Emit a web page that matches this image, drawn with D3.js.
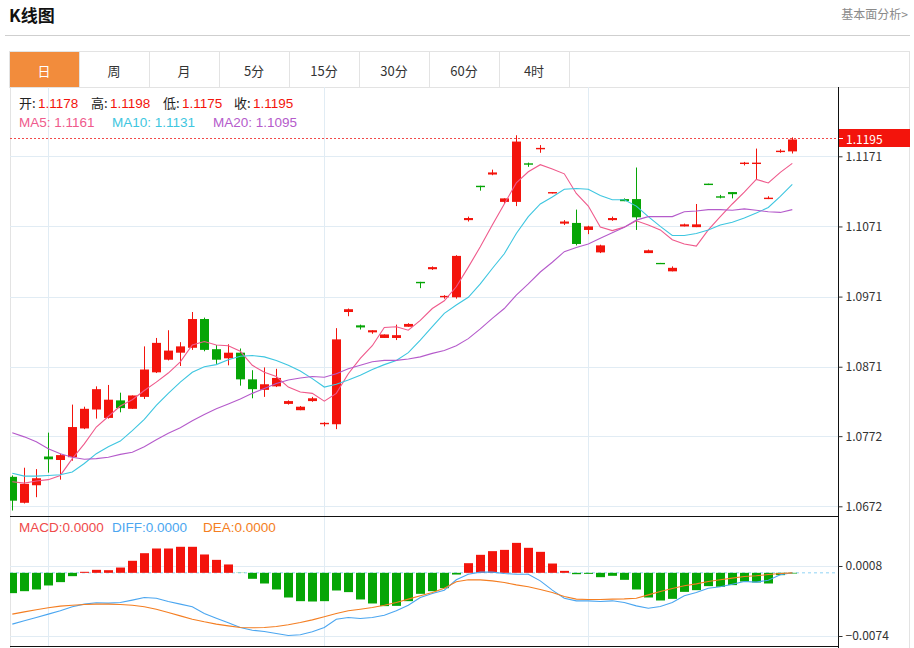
<!DOCTYPE html>
<html>
<head>
<meta charset="utf-8">
<script src="https://cdn.jsdelivr.net/npm/d3@7"></script>
<style>
  body { margin: 0; background: #fff; }
  svg { font-family: "Microsoft YaHei", "Noto Sans CJK SC", sans-serif; }
</style>
</head>
<body>
<script>
var width = 914, height = 648;

// tabs of the period selector
var tabs = ["日", "周", "月", "5分", "15分", "30分", "60分", "4时"];

// daily candles, oldest first
var open  = [1.0714,1.0677,1.0702,1.0743,1.0738,1.0742,1.0783,1.0810,1.0798,1.0823,1.0811,1.0828,1.0863,1.0881,1.0891,1.0898,1.0939,1.0896,1.0883,1.0891,1.0853,1.0838,1.0843,1.0818,1.0809,1.0822,1.0789,1.0789,1.0949,1.0930,1.0920,1.0912,1.0912,1.0928,1.0992,1.1010,1.0970,1.0970,1.1080,1.1129,1.1145,1.1106,1.1106,1.1161,1.1181,1.1118,1.1075,1.1076,1.1066,1.1034,1.1080,1.1110,1.1110,1.1033,1.1019,1.1007,1.1071,1.1070,1.1132,1.1114,1.1120,1.1160,1.1160,1.1110,1.1177,1.1178];
var high  = [1.0716,1.0727,1.0725,1.0777,1.0747,1.0817,1.0814,1.0843,1.0845,1.0834,1.0830,1.0900,1.0912,1.0923,1.0906,1.0949,1.0941,1.0902,1.0903,1.0897,1.0866,1.0870,1.0868,1.0823,1.0815,1.0828,1.0792,1.0926,1.0954,1.0931,1.0923,1.0917,1.0931,1.0933,1.0992,1.1014,1.0973,1.1030,1.1085,1.1129,1.1152,1.1111,1.1201,1.1162,1.1187,1.1120,1.1080,1.1095,1.1072,1.1045,1.1085,1.1111,1.1155,1.1038,1.1019,1.1014,1.1075,1.1103,1.1132,1.1116,1.1120,1.1163,1.1182,1.1114,1.1181,1.1198];
var low   = [1.0666,1.0676,1.0685,1.0720,1.0710,1.0737,1.0782,1.0797,1.0797,1.0806,1.0811,1.0825,1.0862,1.0880,1.0872,1.0895,1.0893,1.0875,1.0873,1.0844,1.0826,1.0828,1.0842,1.0817,1.0809,1.0821,1.0786,1.0782,1.0943,1.0924,1.0918,1.0912,1.0909,1.0928,1.0983,1.1009,1.0968,1.0968,1.1078,1.1122,1.1144,1.1103,1.1100,1.1156,1.1176,1.1118,1.1073,1.1044,1.1060,1.1033,1.1079,1.1107,1.1066,1.1033,1.1018,1.1007,1.1071,1.1070,1.1130,1.1111,1.1111,1.1158,1.1138,1.1110,1.1176,1.1175];
var close = [1.0680,1.0704,1.0712,1.0739,1.0745,1.0785,1.0811,1.0839,1.0824,1.0812,1.0830,1.0867,1.0905,1.0894,1.0900,1.0939,1.0895,1.0881,1.0891,1.0853,1.0839,1.0846,1.0855,1.0822,1.0814,1.0826,1.0791,1.0910,1.0953,1.0927,1.0923,1.0917,1.0916,1.0932,1.0990,1.1013,1.0972,1.1029,1.1083,1.1127,1.1148,1.1111,1.1192,1.1159,1.1183,1.1120,1.1078,1.1046,1.1071,1.1044,1.1083,1.1107,1.1084,1.1037,1.1018,1.1012,1.1074,1.1074,1.1130,1.1112,1.1117,1.1162,1.1162,1.1112,1.1179,1.1195];

// moving averages
var ma5  = [1.0707,1.0705,1.0708,1.0710,1.0716,1.0740,1.0761,1.0785,1.0800,1.0815,1.0824,1.0837,1.0849,1.0862,1.0878,1.0902,1.0907,1.0902,1.0901,1.0893,1.0873,1.0863,1.0857,1.0842,1.0835,1.0833,1.0822,1.0833,1.0861,1.0883,1.0901,1.0927,1.0928,1.0923,1.0937,1.0954,1.0965,1.0985,1.1013,1.1042,1.1073,1.1103,1.1133,1.1149,1.1159,1.1153,1.1146,1.1118,1.1100,1.1070,1.1065,1.1070,1.1079,1.1073,1.1066,1.1052,1.1046,1.1043,1.1066,1.1085,1.1103,1.1120,1.1138,1.1133,1.1148,1.1161];
var ma10 = [1.0719,1.0715,1.0715,1.0716,1.0717,1.0721,1.0733,1.0747,1.0757,1.0765,1.0780,1.0796,1.0816,1.0833,1.0849,1.0863,1.0871,1.0874,1.0881,1.0886,1.0887,1.0885,1.0880,1.0873,1.0865,1.0854,1.0842,1.0846,1.0852,1.0859,1.0867,1.0874,1.0880,1.0891,1.0909,1.0928,1.0947,1.0959,1.0970,1.0989,1.1011,1.1032,1.1061,1.1085,1.1103,1.1113,1.1124,1.1125,1.1124,1.1115,1.1109,1.1109,1.1100,1.1085,1.1071,1.1058,1.1058,1.1061,1.1066,1.1073,1.1077,1.1083,1.1090,1.1098,1.1114,1.1131];
var ma20 = [1.0777,1.0771,1.0764,1.0754,1.0747,1.0742,1.0739,1.0740,1.0742,1.0746,1.0749,1.0757,1.0767,1.0776,1.0784,1.0794,1.0803,1.0811,1.0818,1.0825,1.0833,1.0840,1.0847,1.0852,1.0855,1.0857,1.0856,1.0861,1.0868,1.0873,1.0878,1.0880,1.0880,1.0882,1.0885,1.0890,1.0894,1.0901,1.0911,1.0925,1.0940,1.0954,1.0973,1.0989,1.1006,1.1020,1.1035,1.1041,1.1046,1.1054,1.1062,1.1070,1.1080,1.1085,1.1085,1.1085,1.1092,1.1093,1.1095,1.1095,1.1094,1.1096,1.1094,1.1092,1.1091,1.1095];

// MACD panel
var macd = [-0.00238,-0.00215,-0.00195,-0.00148,-0.00109,-0.00039,0.00012,0.00035,0.00031,0.00062,0.00141,0.00230,0.00285,0.00285,0.00305,0.00305,0.00215,0.00152,0.00098,-0.00002,-0.00070,-0.00125,-0.00195,-0.00289,-0.00332,-0.00336,-0.00332,-0.00207,-0.00226,-0.00312,-0.00359,-0.00390,-0.00387,-0.00332,-0.00246,-0.00215,-0.00180,-0.00020,0.00113,0.00211,0.00254,0.00269,0.00351,0.00293,0.00246,0.00109,0.00023,-0.00016,-0.00012,-0.00051,-0.00035,-0.00082,-0.00195,-0.00289,-0.00324,-0.00305,-0.00223,-0.00203,-0.00156,-0.00164,-0.00144,-0.00102,-0.00113,-0.00125,-0.00027,-0.00008];
var diff = [-0.00601,-0.00562,-0.00523,-0.00484,-0.00445,-0.00398,-0.00367,-0.00351,-0.00355,-0.00348,-0.00320,-0.00289,-0.00297,-0.00336,-0.00367,-0.00398,-0.00476,-0.00531,-0.00586,-0.00640,-0.00672,-0.00687,-0.00711,-0.00734,-0.00726,-0.00691,-0.00640,-0.00543,-0.00523,-0.00535,-0.00523,-0.00496,-0.00445,-0.00379,-0.00289,-0.00242,-0.00203,-0.00082,-0.00016,0.00008,0.00008,-0.00008,-0.00016,-0.00016,-0.00094,-0.00203,-0.00297,-0.00328,-0.00328,-0.00336,-0.00328,-0.00348,-0.00387,-0.00414,-0.00394,-0.00348,-0.00269,-0.00230,-0.00180,-0.00164,-0.00133,-0.00102,-0.00109,-0.00086,-0.00023,0.00000];
var dea  = [-0.00484,-0.00457,-0.00433,-0.00410,-0.00390,-0.00379,-0.00371,-0.00367,-0.00367,-0.00371,-0.00379,-0.00398,-0.00426,-0.00465,-0.00504,-0.00543,-0.00574,-0.00601,-0.00621,-0.00640,-0.00644,-0.00640,-0.00629,-0.00609,-0.00582,-0.00551,-0.00515,-0.00476,-0.00445,-0.00426,-0.00406,-0.00379,-0.00348,-0.00308,-0.00269,-0.00230,-0.00180,-0.00105,-0.00082,-0.00082,-0.00094,-0.00113,-0.00141,-0.00164,-0.00195,-0.00230,-0.00277,-0.00308,-0.00312,-0.00312,-0.00308,-0.00305,-0.00297,-0.00258,-0.00219,-0.00184,-0.00152,-0.00129,-0.00102,-0.00082,-0.00062,-0.00043,-0.00035,-0.00020,-0.00008,0.00000];

var priceTicks = [1.0672, 1.0772, 1.0871, 1.0971, 1.1071, 1.1171];
var macdTicks = [0.0008, -0.0074];
var monthStarts = [3, 26, 48];   // candles where vertical grid lines fall

var red = "#f3140c", green = "#06a506";
var colMA5 = "#ef5a8c", colMA10 = "#3ec6e0", colMA20 = "#b55bcb";

var left = 10, right = 838, priceTop = 87, priceBottom = 516, macdBottom = 646;

var svg = d3.select("body").append("svg")
    .attr("width", width)
    .attr("height", height);

// ---- header
svg.append("text")
    .attr("x", 9).attr("y", 22)
    .style("font-size", "17px").style("font-weight", "bold")
    .attr("fill", "#111")
    .text("K线图");
svg.append("text")
    .attr("x", 908).attr("y", 19)
    .attr("text-anchor", "end")
    .style("font-size", "12px")
    .attr("fill", "#8a8a8a")
    .text("基本面分析>");
svg.append("line")
    .attr("x1", 5).attr("x2", 910).attr("y1", 35.5).attr("y2", 35.5)
    .attr("stroke", "#cfcfcf");

// ---- period tabs
var tabW = 70;
svg.append("rect")
    .attr("x", 9.5).attr("y", 51.5).attr("width", 900).attr("height", 36)
    .attr("fill", "none").attr("stroke", "#e3e3e3");
var tab = svg.append("g").selectAll("g")
    .data(tabs)
  .join("g")
    .attr("transform", (d, i) => `translate(${10 + i * tabW},52)`);
tab.append("rect")
    .attr("width", tabW).attr("height", 35)
    .attr("fill", (d, i) => i == 0 ? "#f28c3c" : "#fff");
tab.append("line")
    .attr("x1", tabW - 0.5).attr("x2", tabW - 0.5).attr("y1", 0).attr("y2", 35)
    .attr("stroke", "#e3e3e3");
tab.append("text")
    .attr("x", tabW / 2 - 1).attr("y", 18)
    .attr("text-anchor", "middle").attr("dominant-baseline", "central")
    .style("font-size", "13px")
    .attr("fill", (d, i) => i == 0 ? "#fff" : "#333")
    .text(d => d);

// ---- frame
svg.append("line").attr("x1", 10.5).attr("x2", 10.5).attr("y1", 87).attr("y2", 648).attr("stroke", "#e3e3e3");
svg.append("line").attr("x1", 909.5).attr("x2", 909.5).attr("y1", 87).attr("y2", 648).attr("stroke", "#e3e3e3");

// ---- scales
var x = d3.scaleLinear().domain([0, open.length - 1]).range([12.3, 792.3]);
var y = d3.scaleLinear().domain([1.0672, 1.1171]).range([506.3, 156.3]);
var ym = d3.scaleLinear().domain([-0.0074, 0.0008]).range([636, 566]);

var defs = svg.append("defs");
defs.append("clipPath").attr("id", "clipPrice").append("rect")
    .attr("x", left).attr("y", priceTop).attr("width", right - left).attr("height", priceBottom - priceTop);
defs.append("clipPath").attr("id", "clipMacd").append("rect")
    .attr("x", left).attr("y", priceBottom).attr("width", right - left).attr("height", macdBottom - priceBottom);

// ---- grid
var grid = svg.append("g").attr("stroke", "#e1ecf4");
grid.selectAll(".hp").data(priceTicks).join("line")
    .attr("x1", left).attr("x2", right)
    .attr("y1", d => Math.round(y(d)) + 0.5).attr("y2", d => Math.round(y(d)) + 0.5);
grid.selectAll(".hm").data(macdTicks).join("line")
    .attr("x1", left).attr("x2", right)
    .attr("y1", d => Math.round(ym(d)) + 0.5).attr("y2", d => Math.round(ym(d)) + 0.5);
grid.selectAll(".v").data(monthStarts).join("line")
    .attr("x1", d => Math.round(x(d)) + 0.5).attr("x2", d => Math.round(x(d)) + 0.5)
    .attr("y1", priceTop).attr("y2", macdBottom);

// ---- candles
var idx = d3.range(open.length);
var pricePlot = svg.append("g").attr("clip-path", "url(#clipPrice)");
var candle = pricePlot.append("g").selectAll("g")
    .data(idx)
  .join("g")
    .attr("fill", i => close[i] >= open[i] ? red : green)
    .attr("stroke", i => close[i] >= open[i] ? red : green);
candle.append("line")
    .attr("x1", i => Math.round(x(i)) + 0.5).attr("x2", i => Math.round(x(i)) + 0.5)
    .attr("y1", i => y(high[i])).attr("y2", i => y(low[i]));
candle.append("rect")
    .attr("stroke", "none")
    .attr("x", i => Math.round(x(i)) - 4)
    .attr("width", 9)
    .attr("y", i => y(Math.max(open[i], close[i])))
    .attr("height", i => Math.max(1.3, Math.abs(y(open[i]) - y(close[i]))));

// ---- moving averages
[[ma5, colMA5], [ma10, colMA10], [ma20, colMA20]].forEach(function (s) {
    pricePlot.append("path")
        .datum(s[0])
        .attr("fill", "none")
        .attr("stroke", s[1])
        .attr("stroke-width", 1.1)
        .attr("d", d3.line().x((d, i) => x(i)).y(d => y(d)));
});

// last price marker
var last = close[close.length - 1];
var lastY = Math.round(y(last)) - 0.5;
svg.append("line")
    .attr("x1", left).attr("x2", right)
    .attr("y1", lastY).attr("y2", lastY)
    .attr("stroke", "#f24a4a").attr("stroke-dasharray", "2,2");

// ---- MACD panel
var macdPlot = svg.append("g").attr("clip-path", "url(#clipMacd)");
macdPlot.append("line")
    .attr("x1", left).attr("x2", right)
    .attr("y1", ym(0)).attr("y2", ym(0))
    .attr("stroke", "#8fd3f5").attr("stroke-dasharray", "3,3");
macdPlot.append("g").selectAll("rect")
    .data(idx)
  .join("rect")
    .attr("x", i => Math.round(x(i)) - 4)
    .attr("width", 9)
    .attr("y", i => Math.min(ym(0), ym(macd[i])))
    .attr("height", i => Math.abs(ym(macd[i]) - ym(0)))
    .attr("fill", i => macd[i] >= 0 ? red : green);
[[diff, "#4ba6f0"], [dea, "#f47e22"]].forEach(function (s) {
    macdPlot.append("path")
        .datum(s[0])
        .attr("fill", "none")
        .attr("stroke", s[1])
        .attr("stroke-width", 1.1)
        .attr("d", d3.line().x((d, i) => x(i)).y(d => ym(d)));
});

// ---- axes
svg.append("line").attr("x1", left).attr("x2", right).attr("y1", 516.5).attr("y2", 516.5).attr("stroke", "#111");
svg.append("line").attr("x1", left).attr("x2", right).attr("y1", 646.5).attr("y2", 646.5).attr("stroke", "#111");
svg.append("line").attr("x1", right + 0.5).attr("x2", right + 0.5).attr("y1", priceTop).attr("y2", height).attr("stroke", "#111");

function styleAxis(g) {
    g.select(".domain").remove();
    g.selectAll(".tick line").attr("stroke", "#333");
    g.selectAll(".tick text").attr("fill", "#333").style("font-size", "12px")
        .style("font-family", "'Microsoft YaHei','Noto Sans CJK SC',sans-serif");
}
svg.append("g")
    .attr("transform", `translate(${right + 0.5},0)`)
    .call(d3.axisRight(y).tickValues(priceTicks).tickFormat(d3.format(".4f")).tickSize(4).tickPadding(3))
    .call(styleAxis);
svg.append("g")
    .attr("transform", `translate(${right + 0.5},0)`)
    .call(d3.axisRight(ym).tickValues(macdTicks).tickFormat(d3.format(".4f")).tickSize(4).tickPadding(3))
    .call(styleAxis);

var tag = svg.append("g").attr("transform", `translate(${right + 1},${lastY})`);
tag.append("rect").attr("x", 0).attr("y", -9.5).attr("width", 71).attr("height", 18).attr("fill", "#f3140c");
tag.append("line").attr("x1", 0).attr("x2", 4).attr("y1", 0).attr("y2", 0).attr("stroke", "#fff");
tag.append("text").attr("x", 7).attr("y", -0.5)
    .attr("dominant-baseline", "central")
    .style("font-size", "12px").attr("fill", "#fff")
    .text(d3.format(".4f")(last));

// ---- legends (one text node per piece, latin parts in a compact font)
var n = open.length - 1;
var fmt = d3.format(".4f");
var latin = "'Liberation Sans', Arial, sans-serif";
function legend(yPos, items) {
    items.forEach(function (it) {
        var t = svg.append("text").attr("x", it[0]).attr("y", yPos)
            .attr("fill", it[2]).text(it[1]);
        if (it[3]) {
            t.style("font-size", "13px");
            svg.append("text").attr("x", it[0] + 19).attr("y", yPos)
                .style("font-size", "13.5px").style("font-family", latin)
                .attr("fill", it[4]).text(it[3]);
        } else {
            t.style("font-size", "13.5px").style("font-family", latin);
        }
    });
}
legend(108, [
    [19, "开:", "#222", fmt(open[n]), red],
    [91, "高:", "#222", fmt(high[n]), red],
    [163, "低:", "#222", fmt(low[n]), red],
    [234, "收:", "#222", fmt(close[n]), red]
]);
legend(127, [
    [19, "MA5: " + fmt(ma5[n]), colMA5],
    [112, "MA10: " + fmt(ma10[n]), colMA10],
    [213, "MA20: " + fmt(ma20[n]), colMA20]
]);
legend(531.5, [
    [19, "MACD:0.0000", "#ef4a4a"],
    [112, "DIFF:0.0000", "#4ba6f0"],
    [203, "DEA:0.0000", "#f47e22"]
]);
</script>
</body>
</html>
